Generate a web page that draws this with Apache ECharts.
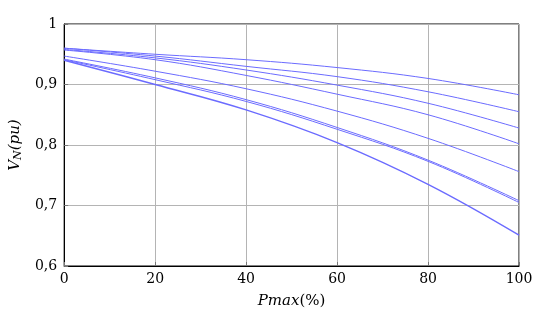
<!DOCTYPE html>
<html>
<head>
<meta charset="utf-8">
<script src="https://cdn.jsdelivr.net/npm/echarts@6/dist/echarts.min.js"></script>
<style>
  html, body { margin: 0; padding: 0; background: #fff; }
  #chart { width: 540px; height: 320px; }
</style>
</head>
<body>
<div id="chart"></div>
<script>
// Pmax (%) sample points
var pmax = [0, 20, 40, 60, 80, 100];
// node voltage curves
var v1 = [0.960, 0.950, 0.941, 0.928, 0.910, 0.883];
var v2 = [0.960, 0.947, 0.930, 0.913, 0.888, 0.855];
var v3 = [0.958, 0.944, 0.924, 0.899, 0.869, 0.828];
var v4 = [0.957, 0.941, 0.915, 0.884, 0.850, 0.802];
var v5 = [0.947, 0.922, 0.893, 0.856, 0.811, 0.756];
var v6 = [0.942, 0.911, 0.875, 0.829, 0.775, 0.708];
var v7 = [0.941, 0.908, 0.872, 0.826, 0.773, 0.705];
var v8 = [0.940, 0.900, 0.858, 0.804, 0.735, 0.651];
var curves = [v1, v2, v3, v4, v5, v6, v7, v8];

var font = 'DejaVu Serif';
var lineColor = '#6b6bff';

const pairs = (ys) => pmax.map((x, i) => [x, ys[i]]);

var series = curves.map((ys, i) => {
  return {
    type: 'line',
    data: pairs(ys),
    smooth: 0.4,
    showSymbol: false,
    lineStyle: {
      color: lineColor,
      width: i === 7 ? 1.4 : 1
    }
  }
});

var myChart = echarts.init(document.getElementById('chart'), null, { renderer: 'canvas' });
myChart.setOption({
  animation: false,
  grid: {
    left: 62,
    right: 21,
    top: 24,
    bottom: 54,
    show: true,
    borderColor: '#000',
    borderWidth: 1
  },
  xAxis: {
    type: 'value',
    min: 0,
    max: 100,
    interval: 20,
    name: '{i|Pmax}{n|(%)}',
    nameLocation: 'middle',
    nameGap: 28,
    nameTextStyle: {
      rich: {
        i: { fontFamily: font, fontStyle: 'italic', fontSize: 15, color: '#000' },
        n: { fontFamily: font, fontSize: 15, color: '#000' }
      }
    },
    axisLine: { show: true, lineStyle: { color: '#000', width: 1 } },
    axisTick: { show: true, inside: true, length: 4, lineStyle: { color: '#777' } },
    splitLine: { show: true, lineStyle: { color: '#b4b4b4', width: 1 } },
    axisLabel: {
      fontFamily: font,
      fontSize: 14,
      color: '#000',
      margin: 6
    }
  },
  yAxis: {
    type: 'value',
    min: 0.6,
    max: 1,
    interval: 0.1,
    name: '{i|V}{s|N}{i|(pu)}',
    nameLocation: 'middle',
    nameGap: 40,
    nameRotate: 90,
    nameTextStyle: {
      rich: {
        i: { fontFamily: font, fontStyle: 'italic', fontSize: 15, color: '#000' },
        s: { fontFamily: font, fontStyle: 'italic', fontSize: 11, color: '#000', padding: [6, 0, 0, 0] }
      }
    },
    axisLine: { show: true, lineStyle: { color: '#000', width: 1 } },
    axisTick: { show: true, inside: true, length: 4, lineStyle: { color: '#777' } },
    splitLine: { show: true, lineStyle: { color: '#b4b4b4', width: 1 } },
    axisLabel: {
      fontFamily: font,
      fontSize: 14,
      color: '#000',
      margin: 7,
      formatter: (v) => {
        if (Math.abs(v - 1) < 1e-9) return '1';
        return v.toFixed(1).replace('.', ',');
      }
    }
  },
  series: series
});
</script>
</body>
</html>
